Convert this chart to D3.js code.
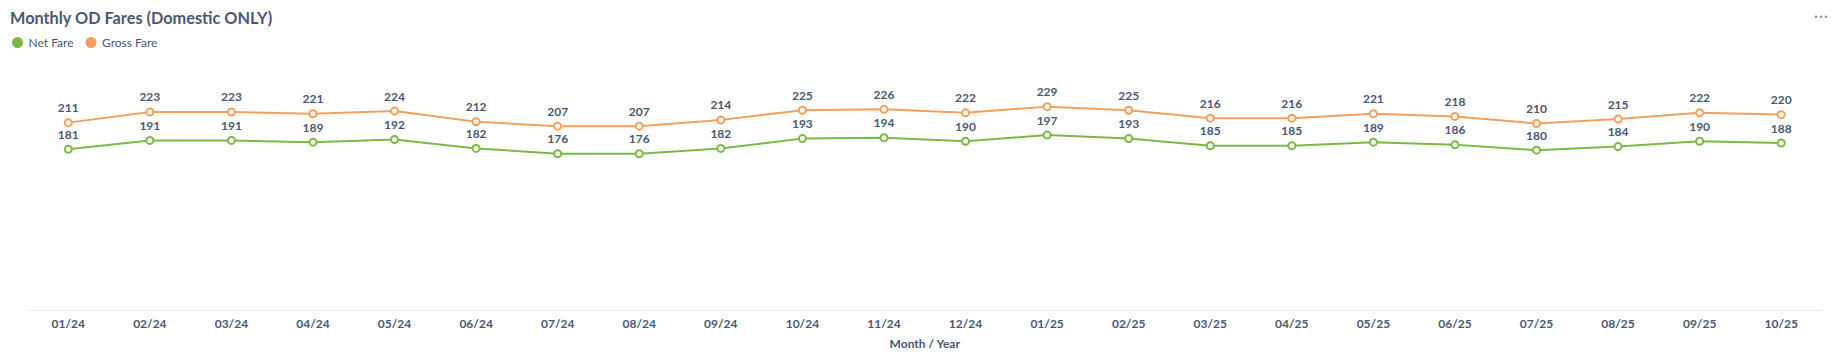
<!DOCTYPE html>
<html>
<head>
<meta charset="utf-8">
<script src="https://cdn.jsdelivr.net/npm/d3@7"></script>
<style>
  html, body { margin: 0; padding: 0; background: #fff; }
  svg { display: block; font-family: Lato, "Open Sans", sans-serif; }
</style>
</head>
<body>
<svg id="chart" width="1838" height="358"></svg>
<script>
const months = ["01/24","02/24","03/24","04/24","05/24","06/24","07/24","08/24","09/24","10/24","11/24","12/24","01/25","02/25","03/25","04/25","05/25","06/25","07/25","08/25","09/25","10/25"];
const netFare = [181,191,191,189,192,182,176,176,182,193,194,190,197,193,185,185,189,186,180,184,190,188];
const grossFare = [211,223,223,221,224,212,207,207,214,225,226,222,229,225,216,216,221,218,210,215,222,220];
const seriesNames = ["Net Fare", "Gross Fare"];
const yDomain = [0, 250];

const colors = { "Net Fare": "#7cb845", "Gross Fare": "#f3a05f" };
const textColor = "#4c5773";

const svg = d3.select("#chart");
const plot = { left: 27.5, right: 1822, top: 88, bottom: 310 };

// Title
svg.append("text").attr("x", 10).attr("y", 24)
  .attr("font-size", 16.3).attr("font-weight", 700).attr("fill", textColor)
  .text("Monthly OD Fares (Domestic ONLY)");

// More menu dots
[1816, 1821, 1826].forEach(cx => {
  svg.append("circle").attr("cx", cx).attr("cy", 16.7).attr("r", 1.3).attr("fill", "#8a92a8");
});

// Legend
let lx = 17.5;
seriesNames.forEach(name => {
  const g = svg.append("g");
  g.append("circle").attr("cx", lx).attr("cy", 42.5).attr("r", 5.5).attr("fill", colors[name]);
  const t = g.append("text").attr("x", lx + 11).attr("y", 46.8)
    .attr("font-size", 12).attr("fill", textColor).text(name);
  lx = lx + 11 + t.node().getComputedTextLength() + 17.5;
});

const x = d3.scaleBand().domain(months).range([plot.left, plot.right]).padding(0);
const y = d3.scaleLinear().domain(yDomain).range([plot.bottom, plot.top]);
const cx = d => x(d) + x.bandwidth() / 2;

// X axis
const xAxis = d3.axisBottom(x).tickSize(0).tickPadding(9);
const ax = svg.append("g").attr("transform", `translate(0,${plot.bottom})`).call(xAxis);
ax.select(".domain").attr("stroke", "#e8e8ea").attr("stroke-width", 1.2);
ax.selectAll("text").attr("font-size", 12).attr("font-weight", 700)
  .attr("fill", textColor).attr("font-family", "Lato, sans-serif");

svg.append("text").attr("x", (plot.left + plot.right) / 2).attr("y", 348)
  .attr("text-anchor", "middle").attr("font-size", 12).attr("font-weight", 700)
  .attr("fill", textColor).text("Month / Year");

const series = [
  { name: "Gross Fare", values: grossFare },
  { name: "Net Fare", values: netFare }
];

const line = d3.line().x((d, i) => cx(months[i])).y(d => y(d));

series.forEach(s => {
  const g = svg.append("g");
  g.append("path").datum(s.values).attr("d", line)
    .attr("fill", "none").attr("stroke", colors[s.name]).attr("stroke-width", 2);
  g.selectAll("circle").data(s.values).join("circle")
    .attr("cx", (d, i) => cx(months[i])).attr("cy", d => y(d)).attr("r", 3.5)
    .attr("fill", "#fff").attr("stroke", colors[s.name]).attr("stroke-width", 2);
  g.selectAll("text").data(s.values).join("text")
    .attr("x", (d, i) => cx(months[i])).attr("y", d => y(d) - 10.5)
    .attr("text-anchor", "middle").attr("font-size", 12).attr("font-weight", 700)
    .attr("fill", textColor)
    .attr("stroke", "#fff").attr("stroke-width", 3).attr("paint-order", "stroke")
    .text(d => d);
});
</script>
</body>
</html>
